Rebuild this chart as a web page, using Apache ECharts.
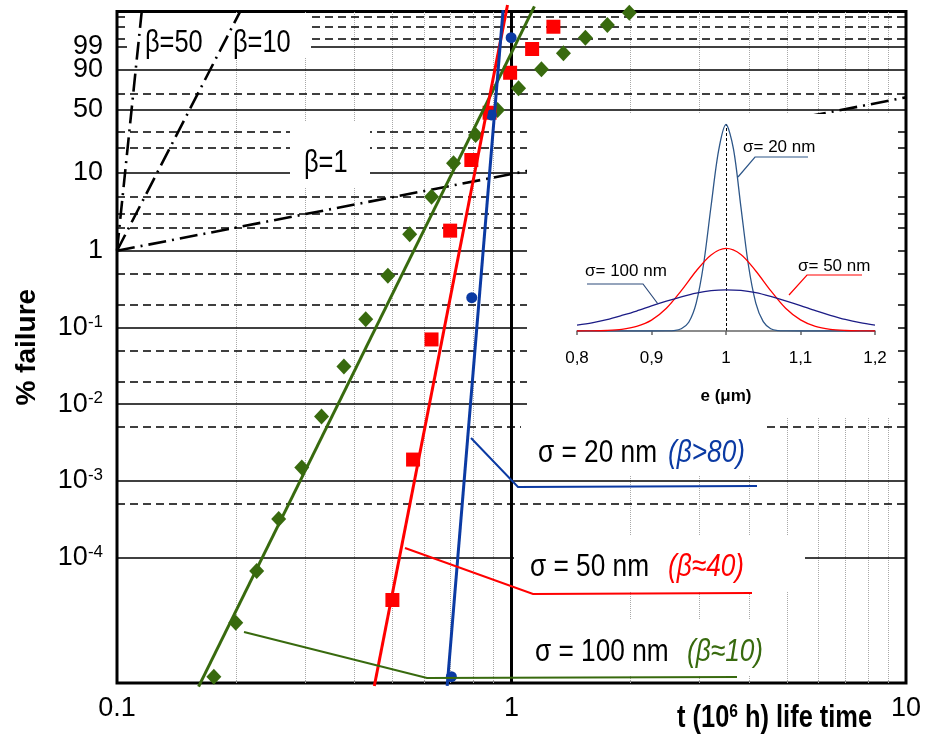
<!DOCTYPE html>
<html>
<head>
<meta charset="utf-8">
<script src="https://cdn.jsdelivr.net/npm/echarts@6/dist/echarts.min.js"></script>
<style>
  html, body { margin: 0; padding: 0; background: #fff; }
  #chart { width: 932px; height: 736px; }
</style>
</head>
<body>
<div id="chart"></div>
<script>
// life time t (10^6 h) and cumulative % failure
const sigma20T = [0.704, 0.793, 0.889, 0.998];
const sigma20F = [2.8e-6, 0.245, 44.7, 99.76];
const sigma50T = [0.499, 0.563, 0.627, 0.699, 0.791, 0.880, 0.992, 1.128, 1.277];
const sigma50F = [2.8e-5, 1.9e-3, 0.070, 1.82, 14.2, 46.9, 87.8, 98.63, 99.977];
const sigma100T = [0.176, 0.200, 0.226, 0.257, 0.294, 0.330, 0.376, 0.427, 0.486, 0.552,
  0.627, 0.713, 0.811, 0.922, 1.042, 1.191, 1.354, 1.539, 1.750, 1.989];
const sigma100F = [2.8e-6, 1.42e-5, 6.7e-5, 3.2e-4, 1.5e-3, 6.9e-3, 0.031, 0.128, 0.474, 1.63,
  4.96, 13.0, 27.7, 49.7, 73.3, 90.3, 97.7, 99.76, 99.985, 99.9997];

// fitted lines, end points [t, %]
const fit20 = [[0.687, 2.12e-6], [0.952, 99.9999]];
const fit50 = [[0.449, 2.12e-6], [0.977, 99.99999]];
const fit100 = [[0.161, 2.08e-6], [1.143, 99.99998]];

// reference slopes drawn from (0.1, 1 %)
const beta50 = [[0.1, 1], [0.1155, 99.9998]];
const beta10 = [[0.1, 1], [0.205, 99.9998]];
const beta1 = [[0.1, 1], [10, 63.4]];

// y grid of the probability paper
const majorP = [99, 90, 50, 10, 1, 0.1, 0.01, 0.001, 0.0001];
const majorLabels = ['99', '90', '50', '10', '1', '10|-1', '10|-2', '10|-3', '10|-4'];
const minorP = [99.999, 99.98, 99.7, 67, 30, 20, 5, 3, 2, 0.5, 0.2, 0.05, 0.02, 0.005, 0.0005];
const minorT = [0.2, 0.3, 0.4, 0.5, 0.6, 0.7, 0.8, 0.9, 2, 3, 4, 5, 6, 7, 8, 9];

// inset: thickness distributions e (um)
const d20X = [0.80, 0.90, 0.92, 0.93, 0.94, 0.95, 0.96, 0.97, 0.98, 0.99, 1.00,
  1.01, 1.02, 1.03, 1.04, 1.05, 1.06, 1.07, 1.08, 1.10, 1.20];
const d20Y = [0, 0, 0.01, 0.04, 0.22, 0.85, 2.7, 6.5, 12.1, 17.4, 19.95,
  17.6, 12.0, 6.4, 2.7, 0.9, 0.22, 0.04, 0.01, 0, 0];
const dX = [0.80, 0.82, 0.84, 0.86, 0.88, 0.90, 0.92, 0.94, 0.96, 0.98, 1.00,
  1.02, 1.04, 1.06, 1.08, 1.10, 1.12, 1.14, 1.16, 1.18, 1.20];
const d50Y = [0, 0.01, 0.05, 0.16, 0.45, 1.05, 2.2, 3.9, 5.8, 7.35, 7.98,
  7.4, 5.8, 3.9, 2.2, 1.08, 0.45, 0.16, 0.05, 0.01, 0];
const d100Y = [0.56, 0.78, 1.1, 1.5, 1.93, 2.42, 2.88, 3.3, 3.66, 3.9, 3.98,
  3.92, 3.7, 3.34, 2.92, 2.46, 1.96, 1.52, 1.12, 0.8, 0.56];

const SANS = "'Liberation Sans', Arial, sans-serif";
const NARROW = 0.82; // horizontal squeeze for the condensed look of the original
const GREEN = '#386a0e';
const RED = '#ff0000';
const BLUE = '#0b3aa3';

// Weibull ordinate ln(-ln(1-F))
const W = p => Math.log(-Math.log1p(-p / 100));
const pts = (ts, fs) => ts.map((t, i) => [t, W(fs[i])]);
const line = arr => arr.map(d => [d[0], W(d[1])]);
const zip = (xs, ys) => xs.map((x, i) => [x, ys[i]]);

const gridLines = [
  ...minorT.map(t => ({ xAxis: t, lineStyle: { color: '#a8a8a8', width: 1, type: [1, 1] } })),
  ...minorP.map(p => ({ yAxis: W(p), lineStyle: { color: '#000', width: 1.5, type: [8, 5] } })),
  ...majorP.map((p, i) => {
    const parts = majorLabels[i].split('|');
    return {
      yAxis: W(p),
      lineStyle: { color: '#000', width: 1.5, type: 'solid' },
      label: {
        show: true, position: 'start', distance: 14,
        formatter: parts.length > 1 ? '{m|' + parts[0] + '}{s|' + parts[1] + '}' : '{m|' + parts[0] + '}'
      }
    };
  }),
  { xAxis: 1, lineStyle: { color: '#000', width: 3, type: 'solid' } }
];

const chart = echarts.init(document.getElementById('chart'));

const textEl = (x, y, text, font, extra, squeeze) => ({
  type: 'text', x: x, y: y, z: 12, scaleX: squeeze || 1, silent: true,
  style: Object.assign({ text: text, fill: '#000', font: font, textVerticalAlign: 'middle' }, extra || {})
});

const rectEl = (x, y, w, h, z) => ({
  type: 'rect', z: z, shape: { x: x, y: y, width: w, height: h },
  style: { fill: '#fff' }, silent: true
});

const poly = (points, color, width, z) => ({
  type: 'polyline', z: z, shape: { points: points },
  style: { stroke: color, lineWidth: width, fill: null }, silent: true
});

const option = {
  animation: false,
  grid: [
    { left: 117, right: 26, top: 11.5, bottom: 53, show: true, borderColor: '#000', borderWidth: 3, backgroundColor: '#fff' },
    { left: 577, right: 57, top: 124, bottom: 405 }
  ],
  xAxis: [
    {
      type: 'log', gridIndex: 0, logBase: 10, min: 0.1, max: 10,
      axisLine: { show: false }, axisTick: { show: false }, splitLine: { show: false },
      axisLabel: { fontFamily: SANS, fontSize: 27, color: '#000', margin: 12, formatter: v => String(v) }
    },
    {
      type: 'value', gridIndex: 1, min: 0.8, max: 1.2, interval: 0.1, z: 10,
      axisLine: { lineStyle: { color: '#666', width: 1.5 } },
      axisTick: { length: 4, lineStyle: { color: '#666', width: 1.5 } },
      splitLine: { show: false },
      axisLabel: {
        fontFamily: SANS, fontSize: 17, color: '#000', margin: 19,
        formatter: v => (Math.abs(v - 1) < 1e-9 ? '1' : v.toFixed(1).replace('.', ','))
      },
      name: 'e (\u03bcm)', nameLocation: 'middle', nameGap: 57,
      nameTextStyle: { fontFamily: SANS, fontSize: 17, fontWeight: 'bold', color: '#000' }
    }
  ],
  yAxis: [
    {
      type: 'value', gridIndex: 0, min: -17.58, max: 2.583,
      axisLine: { show: false }, axisTick: { show: false }, splitLine: { show: false },
      axisLabel: { show: false },
      name: '% failure', nameLocation: 'middle', nameGap: 76, nameRotate: 90,
      nameTextStyle: { fontFamily: SANS, fontSize: 28, fontWeight: 'bold', color: '#000' }
    },
    { type: 'value', gridIndex: 1, min: 0, max: 20, show: false }
  ],
  series: [
    {
      type: 'line', data: [], xAxisIndex: 0, yAxisIndex: 0, silent: true,
      markLine: {
        z: 1, silent: true, symbol: 'none', animation: false,
        label: {
          show: false, color: '#000', fontFamily: SANS, fontSize: 27,
          rich: {
            m: { fontFamily: SANS, fontSize: 27, lineHeight: 28, color: '#000' },
            s: { fontFamily: SANS, fontSize: 17, lineHeight: 17, color: '#000', verticalAlign: 'top' }
          }
        },
        emphasis: { disabled: true },
        data: gridLines
      }
    },
    ...[beta50, beta10, beta1].map(b => ({
      type: 'line', data: line(b), z: 4, symbol: 'none', silent: true,
      lineStyle: { color: '#000', width: 2.6, type: [18, 6, 2, 6], cap: 'butt' }
    })),
    { type: 'scatter', data: pts(sigma100T, sigma100F), z: 5, symbol: 'diamond', symbolSize: [15, 16], itemStyle: { color: GREEN, opacity: 1 }, clip: false },
    { type: 'scatter', data: pts(sigma50T, sigma50F), z: 5, symbol: 'rect', symbolSize: 14, itemStyle: { color: RED, opacity: 1 }, clip: false },
    { type: 'scatter', data: pts(sigma20T, sigma20F), z: 5, symbol: 'circle', symbolSize: 11, itemStyle: { color: BLUE, opacity: 1 }, clip: false },
    { type: 'line', data: line(fit100), z: 6, symbol: 'none', clip: false, silent: true, lineStyle: { color: GREEN, width: 3 } },
    { type: 'line', data: line(fit50), z: 6, symbol: 'none', clip: false, silent: true, lineStyle: { color: RED, width: 3 } },
    { type: 'line', data: line(fit20), z: 6, symbol: 'none', clip: false, silent: true, lineStyle: { color: BLUE, width: 3 } },
    {
      type: 'line', xAxisIndex: 1, yAxisIndex: 1, data: zip(d20X, d20Y), z: 10, symbol: 'none', smooth: 0.3, silent: true,
      lineStyle: { color: '#2d5688', width: 1.3 },
      markLine: {
        z: 10, silent: true, symbol: 'none', label: { show: false },
        lineStyle: { color: '#000', width: 1, type: [3, 2] },
        data: [{ xAxis: 1 }]
      }
    },
    { type: 'line', xAxisIndex: 1, yAxisIndex: 1, data: zip(dX, d50Y), z: 10, symbol: 'none', smooth: 0.3, silent: true, lineStyle: { color: RED, width: 1.3 } },
    { type: 'line', xAxisIndex: 1, yAxisIndex: 1, data: zip(dX, d100Y), z: 10, symbol: 'none', smooth: 0.3, silent: true, lineStyle: { color: '#1c1c86', width: 1.3 } }
  ],
  graphic: [
    // white label boxes that mask the grid
    rectEl(127, 13, 184, 45, 3),
    rectEl(290, 121, 80, 67, 3),
    rectEl(527, 114, 371, 304, 7),
    rectEl(521, 418, 242, 58, 7),
    rectEl(514, 535, 291, 57, 7),
    rectEl(516, 620, 264, 56, 7),
    textEl(145, 43, '\u03b2=50', '31px ' + SANS, null, NARROW),
    textEl(233, 43, '\u03b2=10', '31px ' + SANS, null, NARROW),
    textEl(304, 163, '\u03b2=1', '31px ' + SANS, null, NARROW),
    // inset labels and leaders
    poly([[808, 157], [755, 157], [738, 177]], '#2d5688', 1.2, 11),
    poly([[587, 284], [643, 284], [658, 304]], '#2d4a7a', 1.2, 11),
    poly([[862, 275], [807, 275], [789, 295]], RED, 1.2, 11),
    textEl(743, 147, '\u03c3= 20 nm', '17px ' + SANS),
    textEl(585, 271, '\u03c3= 100 nm', '17px ' + SANS),
    textEl(798, 266, '\u03c3= 50 nm', '17px ' + SANS),
    // main annotations
    poly([[471, 438], [518, 487], [757, 486]], BLUE, 2, 8),
    poly([[405, 548], [533, 594], [752, 593]], RED, 2, 8),
    poly([[244, 632], [427, 678], [737, 677]], GREEN, 2, 8),
    textEl(538, 453, '\u03c3 = 20 nm', '32px ' + SANS, null, NARROW),
    textEl(668, 453, '(\u03b2>80)', 'italic 32px ' + SANS, { fill: BLUE }, NARROW),
    textEl(530, 567, '\u03c3 = 50 nm', '32px ' + SANS, null, NARROW),
    textEl(668, 567, '(\u03b2\u224840)', 'italic 32px ' + SANS, { fill: RED }, NARROW),
    textEl(535, 652, '\u03c3 = 100 nm', '32px ' + SANS, null, NARROW),
    textEl(687, 652, '(\u03b2\u224810)', 'italic 32px ' + SANS, { fill: GREEN }, NARROW),
    {
      type: 'text', x: 677, y: 718, z: 12, scaleX: NARROW, silent: true,
      style: {
        text: '{a|t (10}{s|6}{a| h) life time}',
        textVerticalAlign: 'middle',
        rich: {
          a: { fontFamily: SANS, fontSize: 31, fontWeight: 'bold', lineHeight: 32, fill: '#000' },
          s: { fontFamily: SANS, fontSize: 19, fontWeight: 'bold', lineHeight: 19, fill: '#000', verticalAlign: 'top' }
        }
      }
    }
  ]
};

chart.setOption(option);
</script>
</body>
</html>
